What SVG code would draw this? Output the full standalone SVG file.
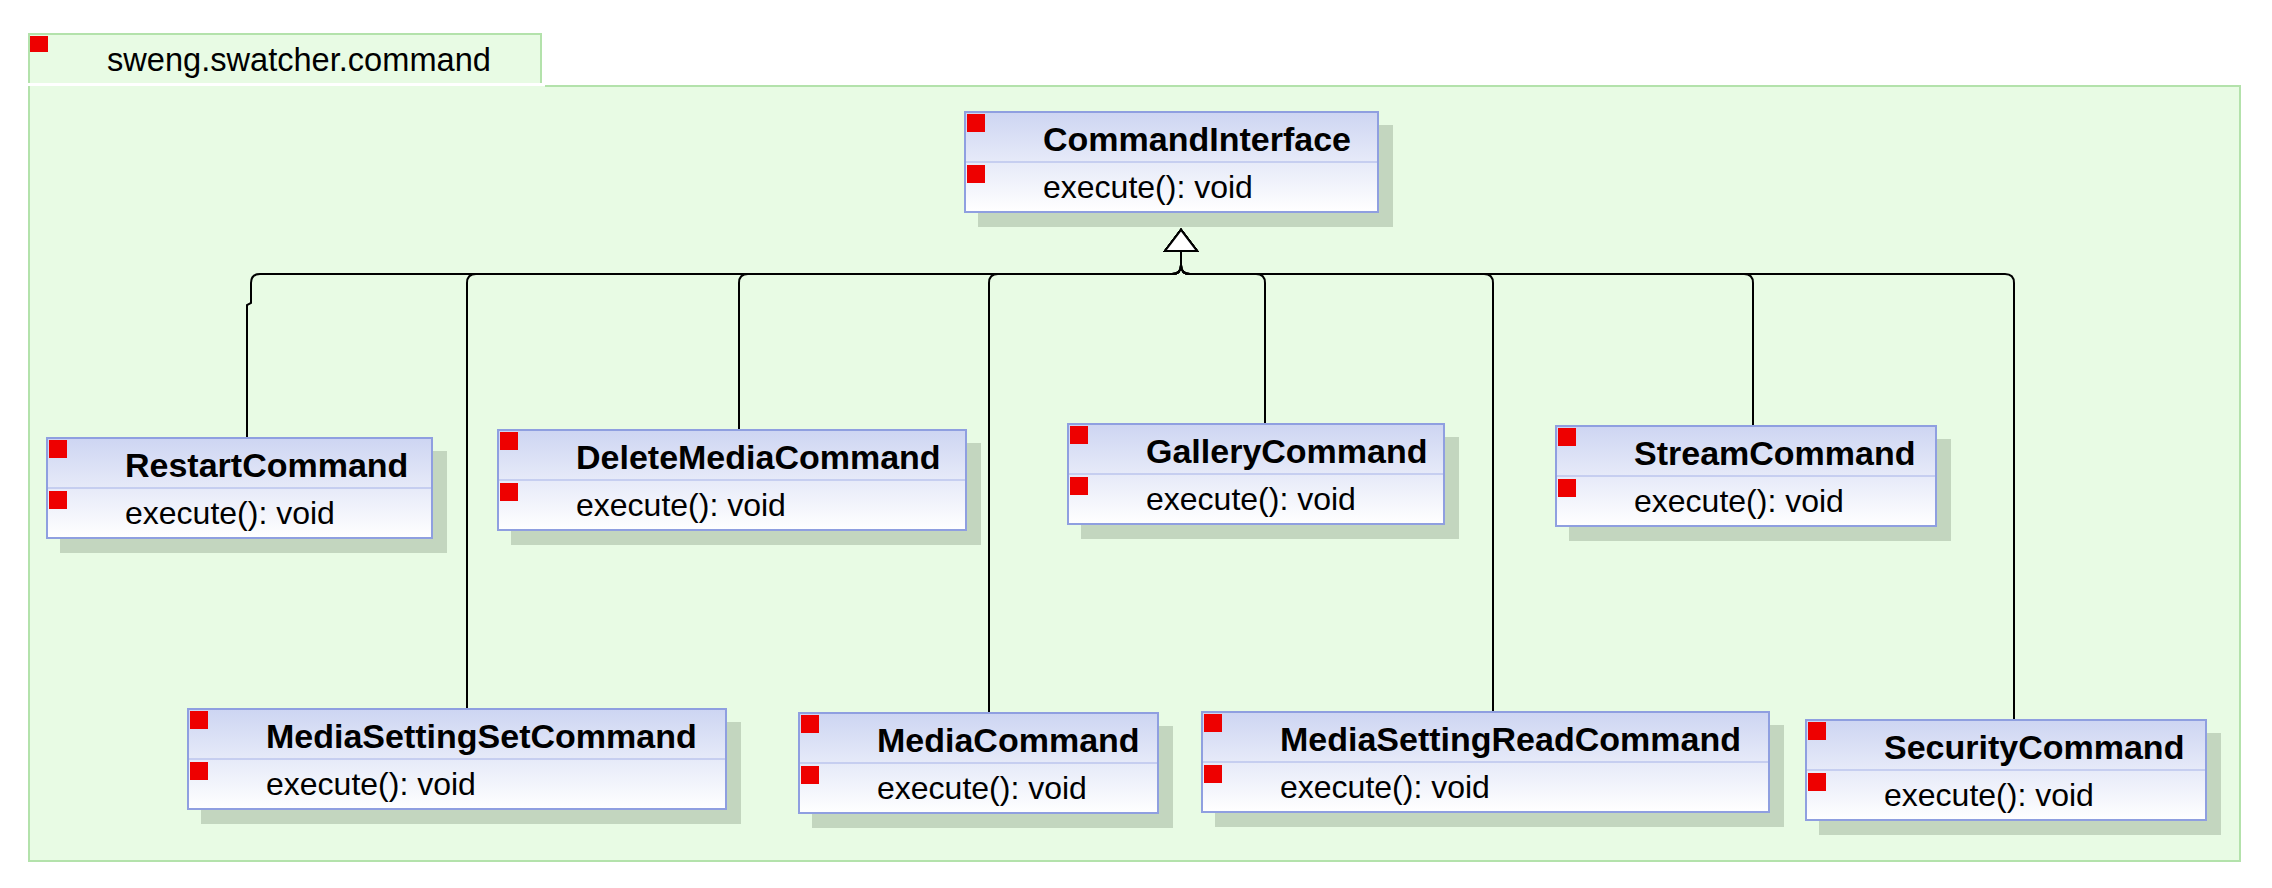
<svg xmlns="http://www.w3.org/2000/svg" width="2272" height="888" viewBox="0 0 2272 888">
<defs>
<linearGradient id="boxGrad" x1="0" y1="0" x2="0" y2="1">
<stop offset="0" stop-color="#cdd5f2"/>
<stop offset="1" stop-color="#ffffff"/>
</linearGradient>
<marker id="gen" markerUnits="userSpaceOnUse" viewBox="0 0 24 36" refX="1" refY="18" markerWidth="24" markerHeight="36" orient="auto">
<path d="M1,2 L22,18 L1,34 Z" fill="#ffffff" stroke="#000000" stroke-width="2"/>
</marker>
</defs>
<style>
.pkg-fill{fill:#e8fbe4}
.pkg-line{fill:none;stroke:#b3e2ab;stroke-width:2}
.shadow{fill:#c3d6bf}
.box{fill:url(#boxGrad);stroke:#8f9fe0;stroke-width:2}
.div{stroke:#c6cef0;stroke-width:2}
.mark{fill:#ee0000}
.title{font-family:"Liberation Sans",Arial,sans-serif;font-weight:bold;font-size:34px;fill:#000}
.op{font-family:"Liberation Sans",Arial,sans-serif;font-size:32px;fill:#000}
.pkgname{font-family:"Liberation Sans",Arial,sans-serif;font-size:32.6px;fill:#000}
.conn{fill:none;stroke:#000;stroke-width:2;marker-end:url(#gen)}
</style>
<rect width="2272" height="888" fill="#ffffff"/>
<g id="package">
<rect class="pkg-fill" x="29" y="34" width="512" height="49"/>
<path class="pkg-line" d="M29,83 V34 H541 V83"/>
<rect class="pkg-fill" x="29" y="86" width="2211" height="775"/>
<path class="pkg-line" d="M545,86 H2240 V861 H29 V86"/>
<rect class="mark" x="30" y="36" width="18" height="16"/>
<text class="pkgname" x="107" y="71">sweng.swatcher.command</text>
</g>
<g id="connectors">
<path class="conn" d="M247,437 V305 L251,303 V283 Q251,274 260,274 H1172 Q1181,274 1181,265 V251"/>
<path class="conn" d="M467,708 V283 Q467,274 476,274 H1172 Q1181,274 1181,265 V251"/>
<path class="conn" d="M739,429 V283 Q739,274 748,274 H1172 Q1181,274 1181,265 V251"/>
<path class="conn" d="M989,712 V283 Q989,274 998,274 H1172 Q1181,274 1181,265 V251"/>
<path class="conn" d="M1265,423 V283 Q1265,274 1256,274 H1190 Q1181,274 1181,265 V251"/>
<path class="conn" d="M1493,711 V283 Q1493,274 1484,274 H1190 Q1181,274 1181,265 V251"/>
<path class="conn" d="M1753,425 V283 Q1753,274 1744,274 H1190 Q1181,274 1181,265 V251"/>
<path class="conn" d="M2014,719 V283 Q2014,274 2005,274 H1190 Q1181,274 1181,265 V251"/>
</g>
<g id="CommandInterface" transform="translate(964,111)">
<rect class="shadow" x="14" y="14" width="415" height="102"/>
<rect class="box" x="1" y="1" width="413" height="100"/>
<line class="div" x1="2" y1="51" x2="413" y2="51"/>
<rect class="mark" x="3" y="3" width="18" height="18"/>
<rect class="mark" x="3" y="54" width="18" height="18"/>
<text class="title" x="79" y="40">CommandInterface</text>
<text class="op" x="79" y="87">execute(): void</text>
</g>
<g id="RestartCommand" transform="translate(46,437)">
<rect class="shadow" x="14" y="14" width="387" height="102"/>
<rect class="box" x="1" y="1" width="385" height="100"/>
<line class="div" x1="2" y1="51" x2="385" y2="51"/>
<rect class="mark" x="3" y="3" width="18" height="18"/>
<rect class="mark" x="3" y="54" width="18" height="18"/>
<text class="title" x="79" y="40">RestartCommand</text>
<text class="op" x="79" y="87">execute(): void</text>
</g>
<g id="MediaSettingSetCommand" transform="translate(187,708)">
<rect class="shadow" x="14" y="14" width="540" height="102"/>
<rect class="box" x="1" y="1" width="538" height="100"/>
<line class="div" x1="2" y1="51" x2="538" y2="51"/>
<rect class="mark" x="3" y="3" width="18" height="18"/>
<rect class="mark" x="3" y="54" width="18" height="18"/>
<text class="title" x="79" y="40">MediaSettingSetCommand</text>
<text class="op" x="79" y="87">execute(): void</text>
</g>
<g id="DeleteMediaCommand" transform="translate(497,429)">
<rect class="shadow" x="14" y="14" width="470" height="102"/>
<rect class="box" x="1" y="1" width="468" height="100"/>
<line class="div" x1="2" y1="51" x2="468" y2="51"/>
<rect class="mark" x="3" y="3" width="18" height="18"/>
<rect class="mark" x="3" y="54" width="18" height="18"/>
<text class="title" x="79" y="40">DeleteMediaCommand</text>
<text class="op" x="79" y="87">execute(): void</text>
</g>
<g id="MediaCommand" transform="translate(798,712)">
<rect class="shadow" x="14" y="14" width="361" height="102"/>
<rect class="box" x="1" y="1" width="359" height="100"/>
<line class="div" x1="2" y1="51" x2="359" y2="51"/>
<rect class="mark" x="3" y="3" width="18" height="18"/>
<rect class="mark" x="3" y="54" width="18" height="18"/>
<text class="title" x="79" y="40">MediaCommand</text>
<text class="op" x="79" y="87">execute(): void</text>
</g>
<g id="GalleryCommand" transform="translate(1067,423)">
<rect class="shadow" x="14" y="14" width="378" height="102"/>
<rect class="box" x="1" y="1" width="376" height="100"/>
<line class="div" x1="2" y1="51" x2="376" y2="51"/>
<rect class="mark" x="3" y="3" width="18" height="18"/>
<rect class="mark" x="3" y="54" width="18" height="18"/>
<text class="title" x="79" y="40">GalleryCommand</text>
<text class="op" x="79" y="87">execute(): void</text>
</g>
<g id="MediaSettingReadCommand" transform="translate(1201,711)">
<rect class="shadow" x="14" y="14" width="569" height="102"/>
<rect class="box" x="1" y="1" width="567" height="100"/>
<line class="div" x1="2" y1="51" x2="567" y2="51"/>
<rect class="mark" x="3" y="3" width="18" height="18"/>
<rect class="mark" x="3" y="54" width="18" height="18"/>
<text class="title" x="79" y="40">MediaSettingReadCommand</text>
<text class="op" x="79" y="87">execute(): void</text>
</g>
<g id="StreamCommand" transform="translate(1555,425)">
<rect class="shadow" x="14" y="14" width="382" height="102"/>
<rect class="box" x="1" y="1" width="380" height="100"/>
<line class="div" x1="2" y1="51" x2="380" y2="51"/>
<rect class="mark" x="3" y="3" width="18" height="18"/>
<rect class="mark" x="3" y="54" width="18" height="18"/>
<text class="title" x="79" y="40">StreamCommand</text>
<text class="op" x="79" y="87">execute(): void</text>
</g>
<g id="SecurityCommand" transform="translate(1805,719)">
<rect class="shadow" x="14" y="14" width="402" height="102"/>
<rect class="box" x="1" y="1" width="400" height="100"/>
<line class="div" x1="2" y1="51" x2="400" y2="51"/>
<rect class="mark" x="3" y="3" width="18" height="18"/>
<rect class="mark" x="3" y="54" width="18" height="18"/>
<text class="title" x="79" y="40">SecurityCommand</text>
<text class="op" x="79" y="87">execute(): void</text>
</g>
</svg>
